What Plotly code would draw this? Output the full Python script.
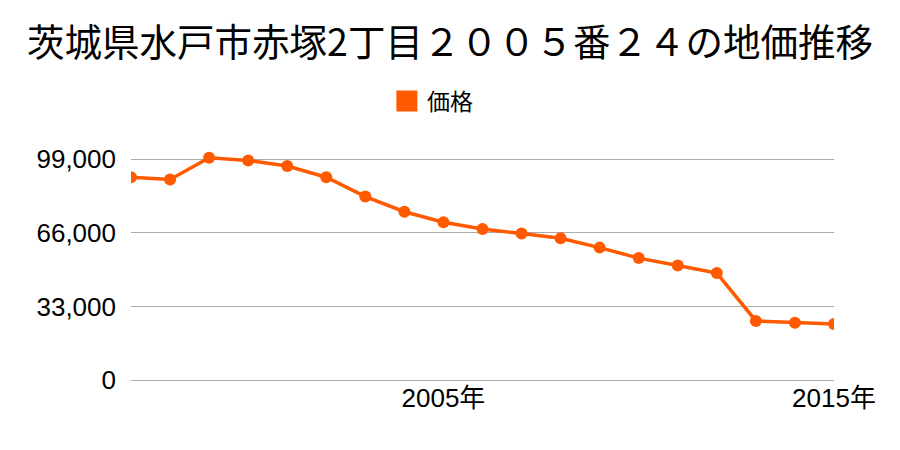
import plotly.graph_objects as go

years = list(range(1997, 2016))
prices = [91000, 90000, 99700, 98500, 96000, 91000, 82300, 75500, 70800, 67800,
          65700, 63600, 59400, 54700, 51400, 48000, 26500, 25700, 25100]
y_ticks = [0, 33000, 66000, 99000]
y_tick_labels = ["0", "33,000", "66,000", "99,000"]
x_ticks = [2005, 2015]
x_tick_labels = ["2005年", "2015年"]

color = "#ff5a00"
cjk = "Noto Sans CJK JP"
latin = "Liberation Sans, Noto Sans CJK JP"

fig = go.Figure()
fig.add_trace(go.Scatter(
    x=years, y=prices, mode="lines+markers", name="価格",
    line=dict(color=color, width=3.5),
    marker=dict(color=color, size=12),
    showlegend=False,
))
# legend swatch (square)
fig.add_trace(go.Scatter(
    x=[None], y=[None], mode="markers", name="価格",
    marker=dict(color=color, size=16, symbol="square",
                line=dict(color=color, width=5)),
    showlegend=True, hoverinfo="skip",
))

fig.update_layout(
    width=900, height=450,
    margin=dict(l=131, r=66, t=146, b=70),
    paper_bgcolor="white", plot_bgcolor="white",
    font=dict(family=latin, color="#000"),
    title=dict(text="茨城県水戸市赤塚2丁目２００５番２４の地価推移",
               x=0.5, xanchor="center", y=0.905, yanchor="middle",
               font=dict(size=37.5, family=cjk, color="#000")),
    showlegend=True,
    legend=dict(orientation="h", x=0.364, xanchor="left", y=1.192, yanchor="middle",
                font=dict(size=23, family=cjk, color="#000"), itemsizing="trace", itemwidth=30),
    xaxis=dict(range=[1997, 2015], tickvals=x_ticks, ticktext=x_tick_labels,
               showgrid=False, zeroline=False, showline=False, ticks="",
               tickfont=dict(size=26), fixedrange=True),
    yaxis=dict(range=[0, 105000], tickvals=y_ticks, ticktext=y_tick_labels,
               showgrid=True, gridcolor="#aaaaaa", gridwidth=1,
               zeroline=True, zerolinecolor="#aaaaaa", zerolinewidth=1,
               showline=False, ticks="", ticklabelstandoff=14,
               tickfont=dict(size=26), fixedrange=True),
)

fig.write_html("out.html")
